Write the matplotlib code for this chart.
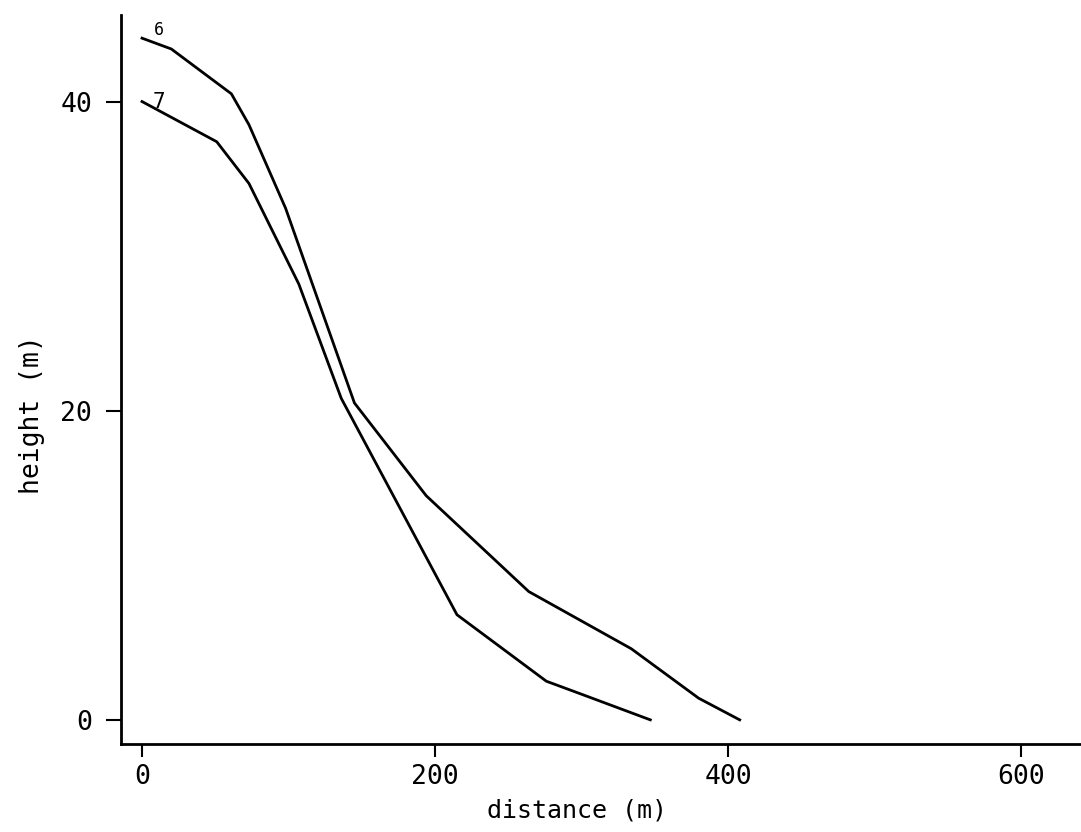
import matplotlib
matplotlib.use("Agg")
import matplotlib.pyplot as plt

#---profile data (distance m, height m)
dist6 = [0, 20, 61, 73, 98, 145, 194, 264, 334, 380, 408]
hgt6 = [44.1, 43.4, 40.5, 38.5, 33.1, 20.5, 14.5, 8.3, 4.6, 1.4, 0]
dist7 = [0, 51, 73, 107, 136, 215, 276, 296, 347]
hgt7 = [40.0, 37.4, 34.7, 28.2, 20.8, 6.8, 2.5, 1.8, 0]
xticks = [0, 200, 400, 600]
yticks = [0, 20, 40]

plt.rcParams['font.family'] = ['DejaVu Sans Mono']

fg = plt.figure(figsize=(10.81, 8.32), dpi=100)
ax = fg.add_axes([0.112, 0.106, 0.888, 0.876])

ax.plot(dist6, hgt6, color='black', linewidth=2.0)
ax.plot(dist7, hgt7, color='black', linewidth=2.0)
ax.text(8, 44.3, '6', fontsize=12, color='black')
ax.text(7, 39.6, '7', fontsize=15, color='black')

ax.set_xlim(-14.3, 641)
ax.set_ylim(-1.55, 45.6)
ax.set_xticks(xticks)
ax.set_yticks(yticks)
ax.tick_params(axis='x', direction='out', length=9.5, width=1.5,
               labelsize=19, pad=5)
ax.tick_params(axis='y', direction='out', length=11, width=1.5,
               labelsize=19, pad=10)
for s in ['top', 'right']:
    ax.spines[s].set_visible(False)
for s in ['left', 'bottom']:
    ax.spines[s].set_linewidth(2.0)

ax.set_xlabel('distance (m)', fontsize=18)
ax.xaxis.set_label_coords(0.475, -0.075)
ax.set_ylabel('height (m)', fontsize=19)
ax.yaxis.set_label_coords(-0.079, 0.452)

plt.savefig("out.png", dpi=100)
